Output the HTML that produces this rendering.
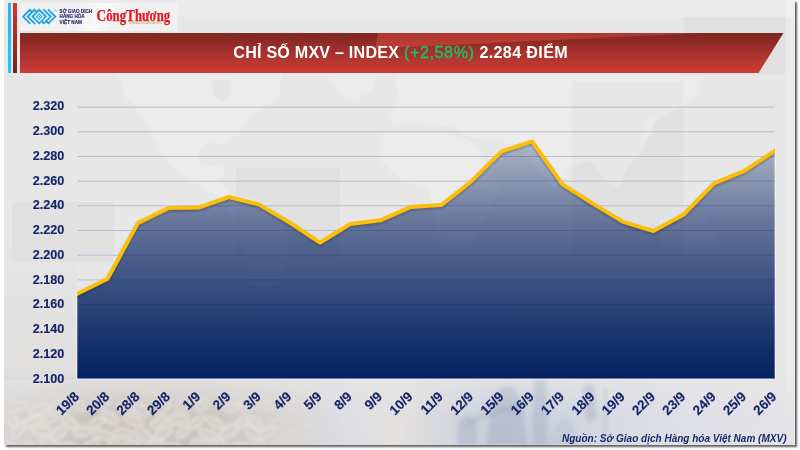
<!DOCTYPE html>
<html lang="vi">
<head>
<meta charset="utf-8">
<title>Chỉ số MXV – Index</title>
<style>
html,body{margin:0;padding:0;background:#fff;}
body{width:800px;height:450px;overflow:hidden;position:relative;font-family:"Liberation Sans",sans-serif;}
#slide{position:absolute;left:4px;top:0;width:790.6px;height:444.8px;overflow:hidden;background:#e7e7e7;}
#shadow{position:absolute;left:4px;top:0;width:790.6px;height:444.8px;box-shadow:1.6px 1.6px 1.8px rgba(0,0,0,.62);}
.vb{position:absolute;top:3px;height:70px;}
#vblue{left:8px;width:3px;background:linear-gradient(#2fb0ec,#20bdf6 50%,#0fd0ff);}
#vred{left:12.7px;width:4.5px;background:linear-gradient(#c93a33,#a22d28 50%,#7b221d);}
#logos{position:absolute;left:19.5px;top:3.2px;width:158px;height:28.2px;background:linear-gradient(115deg,#f1f1f1 0,#f1f1f1 38%,#f9f9f9 50%,#f1f1f1 62%,#f0f0f0 100%);}
#banner{position:absolute;left:19.5px;top:33px;width:764px;height:40px;
  background:linear-gradient(to bottom,#7d2621 0,#a3302b 45%,#cc3d37 100%);
  clip-path:polygon(0 0,100% 0,739px 100%,0 100%);}
#banner .hl{position:absolute;left:0;top:0;width:100%;height:100%;background:rgba(240,82,72,.42);
  clip-path:polygon(358.5px 0,683px 0,356px 15.5px);}
#title{position:absolute;left:0;top:39.7px;width:801.4px;text-align:center;color:#fff;font-weight:bold;font-size:16.1px;line-height:24px;white-space:nowrap;letter-spacing:.37px;}
#title .g{color:#14c46c;font-weight:normal;-webkit-text-stroke:.35px #14c46c;letter-spacing:.6px;}
#title .w1{letter-spacing:.22px;}
#src{position:absolute;right:13.2px;top:431.4px;font-size:10.02px;line-height:16px;font-weight:bold;font-style:italic;color:#1b2a6b;white-space:nowrap;}
svg{position:absolute;left:0;top:0;will-change:transform;}
#title,#src{will-change:transform;}
</style>
</head>
<body>
<div id="shadow"></div>
<div id="slide"></div>
<svg width="800" height="450" viewBox="0 0 800 450">
<defs>
<clipPath id="slideclip"><rect x="4" y="0" width="790.6" height="444.8"/></clipPath>
<linearGradient id="hband" x1="4" x2="795" y1="0" y2="0" gradientUnits="userSpaceOnUse">
<stop offset="0" stop-color="#d5d3d3"/>
<stop offset=".05" stop-color="#d0cdcb"/>
<stop offset=".12" stop-color="#c6bfb9"/>
<stop offset=".25" stop-color="#c8c2bd"/>
<stop offset=".35" stop-color="#d4d1cf"/>
<stop offset=".43" stop-color="#dcdce2"/>
<stop offset=".50" stop-color="#e3e0dd"/>
<stop offset=".565" stop-color="#d2d5dd"/>
<stop offset=".63" stop-color="#c5cbd7"/>
<stop offset=".70" stop-color="#ccd1dc"/>
<stop offset=".78" stop-color="#d8dae3"/>
<stop offset=".88" stop-color="#dfe0e6"/>
<stop offset="1" stop-color="#e3e3e7"/>
</linearGradient>
<linearGradient id="vfade" x1="0" x2="0" y1="372" y2="445" gradientUnits="userSpaceOnUse">
<stop offset="0" stop-color="#fff" stop-opacity="0"/>
<stop offset=".1" stop-color="#fff" stop-opacity=".22"/>
<stop offset=".3" stop-color="#fff" stop-opacity=".5"/>
<stop offset=".6" stop-color="#fff" stop-opacity=".9"/>
<stop offset="1" stop-color="#fff" stop-opacity="1"/>
</linearGradient>
<mask id="vmask" maskUnits="userSpaceOnUse" x="0" y="370" width="800" height="80"><rect x="0" y="370" width="800" height="80" fill="url(#vfade)"/></mask>
<linearGradient id="margin" x1="0" x2="0" y1="230" y2="380" gradientUnits="userSpaceOnUse">
<stop offset="0" stop-color="#d5d2cf" stop-opacity="0"/>
<stop offset="1" stop-color="#d5d2cf" stop-opacity=".4"/>
</linearGradient>
<filter id="b0" x="-5%" y="-5%" width="110%" height="110%"><feGaussianBlur stdDeviation=".8"/></filter>
<filter id="b1" x="-20%" y="-20%" width="140%" height="140%"><feGaussianBlur stdDeviation="1.5"/></filter>
<filter id="b2" x="-20%" y="-20%" width="140%" height="140%"><feGaussianBlur stdDeviation="2.2"/></filter>
</defs>
<g clip-path="url(#slideclip)">
<rect x="4" y="0" width="791" height="17" fill="#fff" fill-opacity=".18"/>
<rect x="785.5" y="0" width="10" height="445" fill="#fff" fill-opacity=".18"/>
<g fill="#000" fill-opacity=".022">
<rect x="683.5" y="16.5" width="102" height="58"/>
<rect x="572" y="81" width="111.5" height="175"/>
<rect x="236" y="168" width="104" height="90"/>
<rect x="12" y="202" width="102" height="60"/>
</g>
<g fill="#fff" fill-opacity=".22" filter="url(#b0)">
<path d="M118,74 L282,74 L279,99 L262,108 L250,118 L240,130 L238,140 L233,134 L226,144 L206,143 L197,152 L200,163 L212,166 L222,162 L226,172 L218,180 L232,196 L226,198 L206,190 L186,178 L168,164 L158,146 L147,126 L136,108 L124,96 Z"/>
<path d="M212,80 L230,80 L231,96 L222,102 L213,94 Z" fill="#000" fill-opacity=".035"/>
<path d="M326,74 L378,74 L372,90 L356,102 L342,96 Z"/>
<path d="M232,196 L250,198 L275,215 L290,240 L280,280 L262,300 L250,280 L240,240 L228,210 Z"/>
<path d="M392,74 L705,74 L694,98 L668,114 L652,124 L644,148 L628,166 L618,188 L604,178 L590,160 L570,168 L556,190 L540,170 L520,150 L500,140 L470,138 L452,126 L428,128 L410,120 L394,126 L386,114 L400,100 Z"/>
<path d="M380,134 L440,132 L474,142 L490,170 L500,190 L486,220 L470,250 L450,262 L436,230 L430,190 L400,180 L380,160 Z"/>
<path d="M646,120 L654,116 L652,134 L644,140 Z"/>
<path d="M660,220 L700,212 L720,232 L712,252 L680,256 L660,244 Z"/>
</g>
<rect x="4" y="230" width="73" height="150" fill="url(#margin)"/>
<rect x="4" y="370" width="791" height="76" fill="url(#hband)" mask="url(#vmask)"/>
<g filter="url(#b1)">
<ellipse cx="6.2" cy="391.9" rx="11.3" ry="5.6" transform="rotate(4 6.2 391.9)" fill="#e4e0dc" fill-opacity="0.15"/>
<ellipse cx="6.2" cy="391.9" rx="9.0" ry="0.9" transform="rotate(4 6.2 391.9)" fill="#b5ada6" fill-opacity="0.09"/>
<ellipse cx="27.7" cy="391.3" rx="10.8" ry="5.6" transform="rotate(-7 27.7 391.3)" fill="#e4e0dc" fill-opacity="0.14"/>
<ellipse cx="27.7" cy="391.3" rx="8.6" ry="0.9" transform="rotate(-7 27.7 391.3)" fill="#b5ada6" fill-opacity="0.08"/>
<ellipse cx="45.7" cy="391.5" rx="10.5" ry="7.2" transform="rotate(-38 45.7 391.5)" fill="#e4e0dc" fill-opacity="0.14"/>
<ellipse cx="45.7" cy="391.5" rx="8.4" ry="0.9" transform="rotate(-38 45.7 391.5)" fill="#b5ada6" fill-opacity="0.09"/>
<ellipse cx="68.2" cy="394.8" rx="12.3" ry="6.7" transform="rotate(-10 68.2 394.8)" fill="#e4e0dc" fill-opacity="0.23"/>
<ellipse cx="68.2" cy="394.8" rx="9.9" ry="0.9" transform="rotate(-10 68.2 394.8)" fill="#b5ada6" fill-opacity="0.14"/>
<ellipse cx="96.8" cy="391.3" rx="12.0" ry="6.1" transform="rotate(-36 96.8 391.3)" fill="#e4e0dc" fill-opacity="0.14"/>
<ellipse cx="96.8" cy="391.3" rx="9.6" ry="0.9" transform="rotate(-36 96.8 391.3)" fill="#b5ada6" fill-opacity="0.08"/>
<ellipse cx="109.2" cy="392.9" rx="11.9" ry="5.9" transform="rotate(8 109.2 392.9)" fill="#e4e0dc" fill-opacity="0.18"/>
<ellipse cx="109.2" cy="392.9" rx="9.5" ry="0.9" transform="rotate(8 109.2 392.9)" fill="#b5ada6" fill-opacity="0.11"/>
<ellipse cx="135.4" cy="393.2" rx="10.9" ry="5.6" transform="rotate(-44 135.4 393.2)" fill="#e4e0dc" fill-opacity="0.19"/>
<ellipse cx="135.4" cy="393.2" rx="8.7" ry="0.9" transform="rotate(-44 135.4 393.2)" fill="#b5ada6" fill-opacity="0.11"/>
<ellipse cx="152.1" cy="395.1" rx="10.5" ry="6.1" transform="rotate(9 152.1 395.1)" fill="#e4e0dc" fill-opacity="0.23"/>
<ellipse cx="152.1" cy="395.1" rx="8.4" ry="0.9" transform="rotate(9 152.1 395.1)" fill="#b5ada6" fill-opacity="0.14"/>
<ellipse cx="175.5" cy="392.8" rx="11.8" ry="6.9" transform="rotate(-26 175.5 392.8)" fill="#e4e0dc" fill-opacity="0.18"/>
<ellipse cx="175.5" cy="392.8" rx="9.4" ry="0.9" transform="rotate(-26 175.5 392.8)" fill="#b5ada6" fill-opacity="0.11"/>
<ellipse cx="197.7" cy="394.2" rx="12.1" ry="7.0" transform="rotate(-21 197.7 394.2)" fill="#e4e0dc" fill-opacity="0.21"/>
<ellipse cx="197.7" cy="394.2" rx="9.7" ry="0.9" transform="rotate(-21 197.7 394.2)" fill="#b5ada6" fill-opacity="0.13"/>
<ellipse cx="222.8" cy="391.7" rx="10.5" ry="7.0" transform="rotate(-35 222.8 391.7)" fill="#e4e0dc" fill-opacity="0.15"/>
<ellipse cx="222.8" cy="391.7" rx="8.4" ry="0.9" transform="rotate(-35 222.8 391.7)" fill="#b5ada6" fill-opacity="0.09"/>
<ellipse cx="238.9" cy="391.2" rx="11.3" ry="7.0" transform="rotate(7 238.9 391.2)" fill="#e4e0dc" fill-opacity="0.13"/>
<ellipse cx="238.9" cy="391.2" rx="9.1" ry="0.9" transform="rotate(7 238.9 391.2)" fill="#b5ada6" fill-opacity="0.08"/>
<ellipse cx="263.8" cy="392.9" rx="11.4" ry="6.7" transform="rotate(8 263.8 392.9)" fill="#e4e0dc" fill-opacity="0.13"/>
<ellipse cx="263.8" cy="392.9" rx="9.1" ry="0.9" transform="rotate(8 263.8 392.9)" fill="#b5ada6" fill-opacity="0.08"/>
<ellipse cx="280.6" cy="396.0" rx="12.3" ry="6.4" transform="rotate(16 280.6 396.0)" fill="#e4e0dc" fill-opacity="0.15"/>
<ellipse cx="280.6" cy="396.0" rx="9.8" ry="0.9" transform="rotate(16 280.6 396.0)" fill="#b5ada6" fill-opacity="0.09"/>
<ellipse cx="297.6" cy="395.2" rx="11.3" ry="7.5" transform="rotate(32 297.6 395.2)" fill="#e4e0dc" fill-opacity="0.10"/>
<ellipse cx="297.6" cy="395.2" rx="9.0" ry="0.9" transform="rotate(32 297.6 395.2)" fill="#b5ada6" fill-opacity="0.06"/>
<ellipse cx="320.8" cy="393.3" rx="11.3" ry="5.5" transform="rotate(-4 320.8 393.3)" fill="#e4e0dc" fill-opacity="0.05"/>
<ellipse cx="320.8" cy="393.3" rx="9.1" ry="0.9" transform="rotate(-4 320.8 393.3)" fill="#b5ada6" fill-opacity="0.03"/>
<ellipse cx="340.7" cy="391.7" rx="9.2" ry="7.0" transform="rotate(-37 340.7 391.7)" fill="#e4e0dc" fill-opacity="0.01"/>
<ellipse cx="340.7" cy="391.7" rx="7.4" ry="0.9" transform="rotate(-37 340.7 391.7)" fill="#b5ada6" fill-opacity="0.01"/>
<ellipse cx="15.5" cy="406.3" rx="12.0" ry="5.7" transform="rotate(-5 15.5 406.3)" fill="#e4e0dc" fill-opacity="0.53"/>
<ellipse cx="15.5" cy="406.3" rx="9.6" ry="0.9" transform="rotate(-5 15.5 406.3)" fill="#b5ada6" fill-opacity="0.32"/>
<ellipse cx="39.5" cy="409.3" rx="11.9" ry="7.2" transform="rotate(-22 39.5 409.3)" fill="#e4e0dc" fill-opacity="0.60"/>
<ellipse cx="39.5" cy="409.3" rx="9.5" ry="0.9" transform="rotate(-22 39.5 409.3)" fill="#b5ada6" fill-opacity="0.36"/>
<ellipse cx="59.2" cy="406.2" rx="12.1" ry="7.4" transform="rotate(-35 59.2 406.2)" fill="#e4e0dc" fill-opacity="0.52"/>
<ellipse cx="59.2" cy="406.2" rx="9.7" ry="0.9" transform="rotate(-35 59.2 406.2)" fill="#b5ada6" fill-opacity="0.31"/>
<ellipse cx="77.8" cy="405.4" rx="9.8" ry="6.5" transform="rotate(9 77.8 405.4)" fill="#e4e0dc" fill-opacity="0.50"/>
<ellipse cx="77.8" cy="405.4" rx="7.9" ry="0.9" transform="rotate(9 77.8 405.4)" fill="#b5ada6" fill-opacity="0.30"/>
<ellipse cx="99.6" cy="404.0" rx="10.5" ry="6.2" transform="rotate(7 99.6 404.0)" fill="#e4e0dc" fill-opacity="0.47"/>
<ellipse cx="99.6" cy="404.0" rx="8.4" ry="0.9" transform="rotate(7 99.6 404.0)" fill="#b5ada6" fill-opacity="0.28"/>
<ellipse cx="127.5" cy="408.1" rx="10.8" ry="6.7" transform="rotate(18 127.5 408.1)" fill="#e4e0dc" fill-opacity="0.57"/>
<ellipse cx="127.5" cy="408.1" rx="8.6" ry="0.9" transform="rotate(18 127.5 408.1)" fill="#b5ada6" fill-opacity="0.34"/>
<ellipse cx="139.5" cy="409.4" rx="11.7" ry="7.2" transform="rotate(30 139.5 409.4)" fill="#e4e0dc" fill-opacity="0.60"/>
<ellipse cx="139.5" cy="409.4" rx="9.4" ry="0.9" transform="rotate(30 139.5 409.4)" fill="#b5ada6" fill-opacity="0.36"/>
<ellipse cx="163.9" cy="406.4" rx="9.4" ry="6.8" transform="rotate(-44 163.9 406.4)" fill="#e4e0dc" fill-opacity="0.53"/>
<ellipse cx="163.9" cy="406.4" rx="7.5" ry="0.9" transform="rotate(-44 163.9 406.4)" fill="#b5ada6" fill-opacity="0.32"/>
<ellipse cx="181.7" cy="405.3" rx="9.6" ry="6.2" transform="rotate(-45 181.7 405.3)" fill="#e4e0dc" fill-opacity="0.50"/>
<ellipse cx="181.7" cy="405.3" rx="7.7" ry="0.9" transform="rotate(-45 181.7 405.3)" fill="#b5ada6" fill-opacity="0.30"/>
<ellipse cx="202.0" cy="404.9" rx="9.4" ry="6.2" transform="rotate(-47 202.0 404.9)" fill="#e4e0dc" fill-opacity="0.49"/>
<ellipse cx="202.0" cy="404.9" rx="7.5" ry="0.9" transform="rotate(-47 202.0 404.9)" fill="#b5ada6" fill-opacity="0.29"/>
<ellipse cx="231.7" cy="407.7" rx="9.5" ry="6.0" transform="rotate(-15 231.7 407.7)" fill="#e4e0dc" fill-opacity="0.55"/>
<ellipse cx="231.7" cy="407.7" rx="7.6" ry="0.9" transform="rotate(-15 231.7 407.7)" fill="#b5ada6" fill-opacity="0.33"/>
<ellipse cx="247.6" cy="404.7" rx="12.0" ry="7.5" transform="rotate(-3 247.6 404.7)" fill="#e4e0dc" fill-opacity="0.41"/>
<ellipse cx="247.6" cy="404.7" rx="9.6" ry="0.9" transform="rotate(-3 247.6 404.7)" fill="#b5ada6" fill-opacity="0.25"/>
<ellipse cx="269.8" cy="404.5" rx="9.4" ry="6.2" transform="rotate(-24 269.8 404.5)" fill="#e4e0dc" fill-opacity="0.32"/>
<ellipse cx="269.8" cy="404.5" rx="7.5" ry="0.9" transform="rotate(-24 269.8 404.5)" fill="#b5ada6" fill-opacity="0.19"/>
<ellipse cx="294.3" cy="405.0" rx="9.1" ry="7.4" transform="rotate(3 294.3 405.0)" fill="#e4e0dc" fill-opacity="0.23"/>
<ellipse cx="294.3" cy="405.0" rx="7.3" ry="0.9" transform="rotate(3 294.3 405.0)" fill="#b5ada6" fill-opacity="0.14"/>
<ellipse cx="308.5" cy="407.3" rx="9.1" ry="6.6" transform="rotate(48 308.5 407.3)" fill="#e4e0dc" fill-opacity="0.19"/>
<ellipse cx="308.5" cy="407.3" rx="7.3" ry="0.9" transform="rotate(48 308.5 407.3)" fill="#b5ada6" fill-opacity="0.11"/>
<ellipse cx="336.6" cy="408.2" rx="9.9" ry="6.2" transform="rotate(-33 336.6 408.2)" fill="#e4e0dc" fill-opacity="0.06"/>
<ellipse cx="336.6" cy="408.2" rx="7.9" ry="0.9" transform="rotate(-33 336.6 408.2)" fill="#b5ada6" fill-opacity="0.04"/>
<ellipse cx="10.8" cy="419.0" rx="9.8" ry="7.1" transform="rotate(48 10.8 419.0)" fill="#e4e0dc" fill-opacity="0.62"/>
<ellipse cx="10.8" cy="419.0" rx="7.8" ry="0.9" transform="rotate(48 10.8 419.0)" fill="#b5ada6" fill-opacity="0.37"/>
<ellipse cx="32.5" cy="421.8" rx="11.9" ry="7.0" transform="rotate(-27 32.5 421.8)" fill="#e4e0dc" fill-opacity="0.62"/>
<ellipse cx="32.5" cy="421.8" rx="9.5" ry="0.9" transform="rotate(-27 32.5 421.8)" fill="#b5ada6" fill-opacity="0.37"/>
<ellipse cx="50.2" cy="419.1" rx="9.1" ry="5.6" transform="rotate(-22 50.2 419.1)" fill="#e4e0dc" fill-opacity="0.62"/>
<ellipse cx="50.2" cy="419.1" rx="7.3" ry="0.9" transform="rotate(-22 50.2 419.1)" fill="#b5ada6" fill-opacity="0.37"/>
<ellipse cx="68.6" cy="421.2" rx="12.3" ry="6.4" transform="rotate(44 68.6 421.2)" fill="#e4e0dc" fill-opacity="0.62"/>
<ellipse cx="68.6" cy="421.2" rx="9.9" ry="0.9" transform="rotate(44 68.6 421.2)" fill="#b5ada6" fill-opacity="0.37"/>
<ellipse cx="96.9" cy="422.7" rx="10.3" ry="5.9" transform="rotate(-27 96.9 422.7)" fill="#e4e0dc" fill-opacity="0.62"/>
<ellipse cx="96.9" cy="422.7" rx="8.2" ry="0.9" transform="rotate(-27 96.9 422.7)" fill="#b5ada6" fill-opacity="0.37"/>
<ellipse cx="110.0" cy="418.2" rx="11.2" ry="7.3" transform="rotate(34 110.0 418.2)" fill="#e4e0dc" fill-opacity="0.62"/>
<ellipse cx="110.0" cy="418.2" rx="8.9" ry="0.9" transform="rotate(34 110.0 418.2)" fill="#b5ada6" fill-opacity="0.37"/>
<ellipse cx="133.8" cy="420.9" rx="11.8" ry="5.7" transform="rotate(16 133.8 420.9)" fill="#e4e0dc" fill-opacity="0.62"/>
<ellipse cx="133.8" cy="420.9" rx="9.4" ry="0.9" transform="rotate(16 133.8 420.9)" fill="#b5ada6" fill-opacity="0.37"/>
<ellipse cx="159.1" cy="421.7" rx="11.6" ry="6.5" transform="rotate(-32 159.1 421.7)" fill="#e4e0dc" fill-opacity="0.62"/>
<ellipse cx="159.1" cy="421.7" rx="9.3" ry="0.9" transform="rotate(-32 159.1 421.7)" fill="#b5ada6" fill-opacity="0.37"/>
<ellipse cx="178.9" cy="419.0" rx="11.8" ry="7.4" transform="rotate(-10 178.9 419.0)" fill="#e4e0dc" fill-opacity="0.62"/>
<ellipse cx="178.9" cy="419.0" rx="9.4" ry="0.9" transform="rotate(-10 178.9 419.0)" fill="#b5ada6" fill-opacity="0.37"/>
<ellipse cx="196.0" cy="422.7" rx="11.5" ry="5.8" transform="rotate(-37 196.0 422.7)" fill="#e4e0dc" fill-opacity="0.62"/>
<ellipse cx="196.0" cy="422.7" rx="9.2" ry="0.9" transform="rotate(-37 196.0 422.7)" fill="#b5ada6" fill-opacity="0.37"/>
<ellipse cx="214.5" cy="422.4" rx="11.8" ry="5.8" transform="rotate(33 214.5 422.4)" fill="#e4e0dc" fill-opacity="0.62"/>
<ellipse cx="214.5" cy="422.4" rx="9.5" ry="0.9" transform="rotate(33 214.5 422.4)" fill="#b5ada6" fill-opacity="0.37"/>
<ellipse cx="243.8" cy="420.9" rx="10.2" ry="6.6" transform="rotate(-37 243.8 420.9)" fill="#e4e0dc" fill-opacity="0.55"/>
<ellipse cx="243.8" cy="420.9" rx="8.2" ry="0.9" transform="rotate(-37 243.8 420.9)" fill="#b5ada6" fill-opacity="0.33"/>
<ellipse cx="255.1" cy="422.8" rx="11.3" ry="6.6" transform="rotate(43 255.1 422.8)" fill="#e4e0dc" fill-opacity="0.49"/>
<ellipse cx="255.1" cy="422.8" rx="9.0" ry="0.9" transform="rotate(43 255.1 422.8)" fill="#b5ada6" fill-opacity="0.29"/>
<ellipse cx="280.3" cy="422.2" rx="11.9" ry="5.9" transform="rotate(-25 280.3 422.2)" fill="#e4e0dc" fill-opacity="0.36"/>
<ellipse cx="280.3" cy="422.2" rx="9.5" ry="0.9" transform="rotate(-25 280.3 422.2)" fill="#b5ada6" fill-opacity="0.22"/>
<ellipse cx="299.9" cy="418.4" rx="11.1" ry="6.0" transform="rotate(-8 299.9 418.4)" fill="#e4e0dc" fill-opacity="0.26"/>
<ellipse cx="299.9" cy="418.4" rx="8.8" ry="0.9" transform="rotate(-8 299.9 418.4)" fill="#b5ada6" fill-opacity="0.16"/>
<ellipse cx="319.3" cy="422.5" rx="10.2" ry="6.4" transform="rotate(8 319.3 422.5)" fill="#e4e0dc" fill-opacity="0.16"/>
<ellipse cx="319.3" cy="422.5" rx="8.2" ry="0.9" transform="rotate(8 319.3 422.5)" fill="#b5ada6" fill-opacity="0.10"/>
<ellipse cx="348.0" cy="419.5" rx="12.2" ry="6.5" transform="rotate(3 348.0 419.5)" fill="#e4e0dc" fill-opacity="0.01"/>
<ellipse cx="348.0" cy="419.5" rx="9.8" ry="0.9" transform="rotate(3 348.0 419.5)" fill="#b5ada6" fill-opacity="0.01"/>
<ellipse cx="18.2" cy="430.1" rx="10.5" ry="5.9" transform="rotate(-50 18.2 430.1)" fill="#e4e0dc" fill-opacity="0.62"/>
<ellipse cx="18.2" cy="430.1" rx="8.4" ry="0.9" transform="rotate(-50 18.2 430.1)" fill="#b5ada6" fill-opacity="0.37"/>
<ellipse cx="42.0" cy="431.0" rx="10.7" ry="7.0" transform="rotate(6 42.0 431.0)" fill="#e4e0dc" fill-opacity="0.62"/>
<ellipse cx="42.0" cy="431.0" rx="8.5" ry="0.9" transform="rotate(6 42.0 431.0)" fill="#b5ada6" fill-opacity="0.37"/>
<ellipse cx="58.3" cy="433.1" rx="10.9" ry="7.1" transform="rotate(-39 58.3 433.1)" fill="#e4e0dc" fill-opacity="0.62"/>
<ellipse cx="58.3" cy="433.1" rx="8.8" ry="0.9" transform="rotate(-39 58.3 433.1)" fill="#b5ada6" fill-opacity="0.37"/>
<ellipse cx="81.6" cy="431.5" rx="10.0" ry="7.0" transform="rotate(1 81.6 431.5)" fill="#e4e0dc" fill-opacity="0.62"/>
<ellipse cx="81.6" cy="431.5" rx="8.0" ry="0.9" transform="rotate(1 81.6 431.5)" fill="#b5ada6" fill-opacity="0.37"/>
<ellipse cx="102.6" cy="434.6" rx="12.2" ry="6.4" transform="rotate(11 102.6 434.6)" fill="#e4e0dc" fill-opacity="0.62"/>
<ellipse cx="102.6" cy="434.6" rx="9.8" ry="0.9" transform="rotate(11 102.6 434.6)" fill="#b5ada6" fill-opacity="0.37"/>
<ellipse cx="123.1" cy="433.1" rx="11.4" ry="6.4" transform="rotate(3 123.1 433.1)" fill="#e4e0dc" fill-opacity="0.62"/>
<ellipse cx="123.1" cy="433.1" rx="9.1" ry="0.9" transform="rotate(3 123.1 433.1)" fill="#b5ada6" fill-opacity="0.37"/>
<ellipse cx="143.8" cy="435.6" rx="11.4" ry="7.3" transform="rotate(44 143.8 435.6)" fill="#e4e0dc" fill-opacity="0.62"/>
<ellipse cx="143.8" cy="435.6" rx="9.2" ry="0.9" transform="rotate(44 143.8 435.6)" fill="#b5ada6" fill-opacity="0.37"/>
<ellipse cx="162.6" cy="433.4" rx="12.3" ry="7.2" transform="rotate(-36 162.6 433.4)" fill="#e4e0dc" fill-opacity="0.62"/>
<ellipse cx="162.6" cy="433.4" rx="9.8" ry="0.9" transform="rotate(-36 162.6 433.4)" fill="#b5ada6" fill-opacity="0.37"/>
<ellipse cx="182.2" cy="432.7" rx="9.3" ry="6.0" transform="rotate(-43 182.2 432.7)" fill="#e4e0dc" fill-opacity="0.62"/>
<ellipse cx="182.2" cy="432.7" rx="7.4" ry="0.9" transform="rotate(-43 182.2 432.7)" fill="#b5ada6" fill-opacity="0.37"/>
<ellipse cx="208.7" cy="434.7" rx="12.1" ry="5.8" transform="rotate(22 208.7 434.7)" fill="#e4e0dc" fill-opacity="0.62"/>
<ellipse cx="208.7" cy="434.7" rx="9.7" ry="0.9" transform="rotate(22 208.7 434.7)" fill="#b5ada6" fill-opacity="0.37"/>
<ellipse cx="229.6" cy="430.9" rx="12.1" ry="7.4" transform="rotate(-28 229.6 430.9)" fill="#e4e0dc" fill-opacity="0.62"/>
<ellipse cx="229.6" cy="430.9" rx="9.7" ry="0.9" transform="rotate(-28 229.6 430.9)" fill="#b5ada6" fill-opacity="0.37"/>
<ellipse cx="253.5" cy="432.4" rx="10.7" ry="7.5" transform="rotate(33 253.5 432.4)" fill="#e4e0dc" fill-opacity="0.50"/>
<ellipse cx="253.5" cy="432.4" rx="8.6" ry="0.9" transform="rotate(33 253.5 432.4)" fill="#b5ada6" fill-opacity="0.30"/>
<ellipse cx="266.6" cy="432.6" rx="10.8" ry="6.2" transform="rotate(-30 266.6 432.6)" fill="#e4e0dc" fill-opacity="0.43"/>
<ellipse cx="266.6" cy="432.6" rx="8.6" ry="0.9" transform="rotate(-30 266.6 432.6)" fill="#b5ada6" fill-opacity="0.26"/>
<ellipse cx="289.2" cy="434.3" rx="9.1" ry="6.6" transform="rotate(-6 289.2 434.3)" fill="#e4e0dc" fill-opacity="0.31"/>
<ellipse cx="289.2" cy="434.3" rx="7.3" ry="0.9" transform="rotate(-6 289.2 434.3)" fill="#b5ada6" fill-opacity="0.19"/>
<ellipse cx="307.2" cy="432.0" rx="11.2" ry="6.5" transform="rotate(-44 307.2 432.0)" fill="#e4e0dc" fill-opacity="0.22"/>
<ellipse cx="307.2" cy="432.0" rx="8.9" ry="0.9" transform="rotate(-44 307.2 432.0)" fill="#b5ada6" fill-opacity="0.13"/>
<ellipse cx="337.9" cy="434.7" rx="12.4" ry="5.7" transform="rotate(-23 337.9 434.7)" fill="#e4e0dc" fill-opacity="0.06"/>
<ellipse cx="337.9" cy="434.7" rx="9.9" ry="0.9" transform="rotate(-23 337.9 434.7)" fill="#b5ada6" fill-opacity="0.04"/>
<ellipse cx="349.4" cy="434.7" rx="9.9" ry="5.8" transform="rotate(-8 349.4 434.7)" fill="#e4e0dc" fill-opacity="0.00"/>
<ellipse cx="349.4" cy="434.7" rx="8.0" ry="0.9" transform="rotate(-8 349.4 434.7)" fill="#b5ada6" fill-opacity="0.00"/>
<ellipse cx="12.1" cy="447.9" rx="9.9" ry="5.8" transform="rotate(42 12.1 447.9)" fill="#e4e0dc" fill-opacity="0.62"/>
<ellipse cx="12.1" cy="447.9" rx="7.9" ry="0.9" transform="rotate(42 12.1 447.9)" fill="#b5ada6" fill-opacity="0.37"/>
<ellipse cx="29.7" cy="447.2" rx="9.3" ry="5.6" transform="rotate(19 29.7 447.2)" fill="#e4e0dc" fill-opacity="0.62"/>
<ellipse cx="29.7" cy="447.2" rx="7.5" ry="0.9" transform="rotate(19 29.7 447.2)" fill="#b5ada6" fill-opacity="0.37"/>
<ellipse cx="49.3" cy="443.4" rx="12.3" ry="6.8" transform="rotate(30 49.3 443.4)" fill="#e4e0dc" fill-opacity="0.62"/>
<ellipse cx="49.3" cy="443.4" rx="9.8" ry="0.9" transform="rotate(30 49.3 443.4)" fill="#b5ada6" fill-opacity="0.37"/>
<ellipse cx="66.8" cy="448.1" rx="9.2" ry="7.2" transform="rotate(-5 66.8 448.1)" fill="#e4e0dc" fill-opacity="0.62"/>
<ellipse cx="66.8" cy="448.1" rx="7.4" ry="0.9" transform="rotate(-5 66.8 448.1)" fill="#b5ada6" fill-opacity="0.37"/>
<ellipse cx="90.4" cy="446.3" rx="12.2" ry="6.0" transform="rotate(-37 90.4 446.3)" fill="#e4e0dc" fill-opacity="0.62"/>
<ellipse cx="90.4" cy="446.3" rx="9.8" ry="0.9" transform="rotate(-37 90.4 446.3)" fill="#b5ada6" fill-opacity="0.37"/>
<ellipse cx="113.3" cy="444.4" rx="9.4" ry="5.8" transform="rotate(-45 113.3 444.4)" fill="#e4e0dc" fill-opacity="0.62"/>
<ellipse cx="113.3" cy="444.4" rx="7.5" ry="0.9" transform="rotate(-45 113.3 444.4)" fill="#b5ada6" fill-opacity="0.37"/>
<ellipse cx="131.0" cy="444.9" rx="10.1" ry="7.0" transform="rotate(-21 131.0 444.9)" fill="#e4e0dc" fill-opacity="0.62"/>
<ellipse cx="131.0" cy="444.9" rx="8.1" ry="0.9" transform="rotate(-21 131.0 444.9)" fill="#b5ada6" fill-opacity="0.37"/>
<ellipse cx="155.0" cy="444.1" rx="10.2" ry="5.5" transform="rotate(-25 155.0 444.1)" fill="#e4e0dc" fill-opacity="0.62"/>
<ellipse cx="155.0" cy="444.1" rx="8.2" ry="0.9" transform="rotate(-25 155.0 444.1)" fill="#b5ada6" fill-opacity="0.37"/>
<ellipse cx="171.2" cy="447.4" rx="10.9" ry="5.9" transform="rotate(-3 171.2 447.4)" fill="#e4e0dc" fill-opacity="0.62"/>
<ellipse cx="171.2" cy="447.4" rx="8.7" ry="0.9" transform="rotate(-3 171.2 447.4)" fill="#b5ada6" fill-opacity="0.37"/>
<ellipse cx="201.3" cy="443.6" rx="11.9" ry="6.4" transform="rotate(-0 201.3 443.6)" fill="#e4e0dc" fill-opacity="0.62"/>
<ellipse cx="201.3" cy="443.6" rx="9.5" ry="0.9" transform="rotate(-0 201.3 443.6)" fill="#b5ada6" fill-opacity="0.37"/>
<ellipse cx="221.3" cy="445.4" rx="10.8" ry="6.9" transform="rotate(48 221.3 445.4)" fill="#e4e0dc" fill-opacity="0.62"/>
<ellipse cx="221.3" cy="445.4" rx="8.6" ry="0.9" transform="rotate(48 221.3 445.4)" fill="#b5ada6" fill-opacity="0.37"/>
<ellipse cx="237.4" cy="448.0" rx="11.5" ry="6.8" transform="rotate(-10 237.4 448.0)" fill="#e4e0dc" fill-opacity="0.58"/>
<ellipse cx="237.4" cy="448.0" rx="9.2" ry="0.9" transform="rotate(-10 237.4 448.0)" fill="#b5ada6" fill-opacity="0.35"/>
<ellipse cx="258.5" cy="443.3" rx="9.5" ry="5.6" transform="rotate(24 258.5 443.3)" fill="#e4e0dc" fill-opacity="0.47"/>
<ellipse cx="258.5" cy="443.3" rx="7.6" ry="0.9" transform="rotate(24 258.5 443.3)" fill="#b5ada6" fill-opacity="0.28"/>
<ellipse cx="278.6" cy="444.0" rx="9.3" ry="7.2" transform="rotate(37 278.6 444.0)" fill="#e4e0dc" fill-opacity="0.37"/>
<ellipse cx="278.6" cy="444.0" rx="7.4" ry="0.9" transform="rotate(37 278.6 444.0)" fill="#b5ada6" fill-opacity="0.22"/>
<ellipse cx="303.7" cy="444.7" rx="9.8" ry="6.1" transform="rotate(-4 303.7 444.7)" fill="#e4e0dc" fill-opacity="0.24"/>
<ellipse cx="303.7" cy="444.7" rx="7.9" ry="0.9" transform="rotate(-4 303.7 444.7)" fill="#b5ada6" fill-opacity="0.14"/>
<ellipse cx="319.6" cy="445.7" rx="9.9" ry="7.4" transform="rotate(47 319.6 445.7)" fill="#e4e0dc" fill-opacity="0.16"/>
<ellipse cx="319.6" cy="445.7" rx="7.9" ry="0.9" transform="rotate(47 319.6 445.7)" fill="#b5ada6" fill-opacity="0.09"/>
<ellipse cx="344.5" cy="444.5" rx="12.4" ry="6.1" transform="rotate(-14 344.5 444.5)" fill="#e4e0dc" fill-opacity="0.03"/>
<ellipse cx="344.5" cy="444.5" rx="9.9" ry="0.9" transform="rotate(-14 344.5 444.5)" fill="#b5ada6" fill-opacity="0.02"/>
</g>
<g filter="url(#b2)" fill="#8794b2" fill-opacity=".26">
<polygon points="457,446 458,422 466,415 476,420 478,446"/>
<polygon points="466,420 500,408 524,402 525,406 500,413 468,425"/>
<polygon points="486,446 492,404 500,388 512,386 522,400 528,446"/>
<polygon points="532,446 534,380 546,380 548,446"/>
<polygon points="583,386 594,384 597,420 588,424 584,410"/>
<rect x="604" y="388" width="2.5" height="58"/>
<polygon points="548,446 556,424 566,418 574,426 578,446" fill-opacity=".14"/>
</g>
</g>
</svg>

<div class="vb" id="vblue"></div>
<div class="vb" id="vred"></div>
<div id="logos"></div>
<div id="banner"><div class="hl"></div></div>
<div id="title"><span class="w1">CHỈ SỐ MXV – INDEX</span> <span class="g">(+2,58%)</span> 2.284 ĐIỂM</div>

<svg width="800" height="450" viewBox="0 0 800 450">
<defs>
<linearGradient id="fill" gradientUnits="userSpaceOnUse" x1="0" y1="142" x2="0" y2="379">
<stop offset="0" stop-color="#032060" stop-opacity=".25"/>
<stop offset=".114" stop-color="#032060" stop-opacity=".36"/>
<stop offset=".312" stop-color="#032060" stop-opacity=".545"/>
<stop offset=".426" stop-color="#032060" stop-opacity=".64"/>
<stop offset=".633" stop-color="#032060" stop-opacity=".78"/>
<stop offset=".844" stop-color="#032060" stop-opacity=".913"/>
<stop offset="1" stop-color="#032060" stop-opacity="1"/>
</linearGradient>
<clipPath id="plotclip"><rect x="77.1" y="90" width="697.9" height="300"/></clipPath>
<filter id="ls" x="-5%" y="-20%" width="110%" height="140%"><feGaussianBlur stdDeviation="1.2"/></filter>
</defs>
<g stroke="#b5bcd1" stroke-width="1">
<line x1="77.7" x2="774.7" y1="107.1" y2="107.1"/>
<line x1="77.7" x2="774.7" y1="131.8" y2="131.8"/>
<line x1="77.7" x2="774.7" y1="156.5" y2="156.5"/>
<line x1="77.7" x2="774.7" y1="181.1" y2="181.1"/>
<line x1="77.7" x2="774.7" y1="205.8" y2="205.8"/>
<line x1="77.7" x2="774.7" y1="230.5" y2="230.5"/>
<line x1="77.7" x2="774.7" y1="255.2" y2="255.2"/>
<line x1="77.7" x2="774.7" y1="279.9" y2="279.9"/>
<line x1="77.7" x2="774.7" y1="304.6" y2="304.6"/>
<line x1="77.7" x2="774.7" y1="329.2" y2="329.2"/>
<line x1="77.7" x2="774.7" y1="353.9" y2="353.9"/>
<line x1="77.7" x2="774.7" y1="378.6" y2="378.6"/>
</g>
<polygon points="77.3,378.6 77.3,293.8 107.6,278.8 137.9,223.1 168.3,208.1 198.6,207.6 228.9,197.0 259.2,204.6 289.6,222.5 319.9,242.7 350.2,224.0 380.5,220.3 410.8,206.9 441.2,205.1 471.5,181.2 501.8,151.3 532.1,141.4 562.4,184.3 592.8,203.6 623.1,221.9 653.4,231.0 683.7,214.5 714.1,183.4 744.4,170.9 774.7,150.9 774.7,378.6" fill="none" stroke="#fff" stroke-opacity=".5" stroke-width="2.2" stroke-linejoin="round"/>
<polygon points="77.3,378.6 77.3,293.8 107.6,278.8 137.9,223.1 168.3,208.1 198.6,207.6 228.9,197.0 259.2,204.6 289.6,222.5 319.9,242.7 350.2,224.0 380.5,220.3 410.8,206.9 441.2,205.1 471.5,181.2 501.8,151.3 532.1,141.4 562.4,184.3 592.8,203.6 623.1,221.9 653.4,231.0 683.7,214.5 714.1,183.4 744.4,170.9 774.7,150.9 774.7,378.6" fill="url(#fill)"/>
<g clip-path="url(#plotclip)">
<polyline points="74.3,295.3 77.3,293.8 107.6,278.8 137.9,223.1 168.3,208.1 198.6,207.6 228.9,197.0 259.2,204.6 289.6,222.5 319.9,242.7 350.2,224.0 380.5,220.3 410.8,206.9 441.2,205.1 471.5,181.2 501.8,151.3 532.1,141.4 562.4,184.3 592.8,203.6 623.1,221.9 653.4,231.0 683.7,214.5 714.1,183.4 744.4,170.9 774.7,150.9 777.7,148.9" fill="none" stroke="#222" stroke-opacity=".35" stroke-width="3.6" stroke-linejoin="round" transform="translate(0,1.6)" filter="url(#ls)"/>
<polyline points="74.3,295.3 77.3,293.8 107.6,278.8 137.9,223.1 168.3,208.1 198.6,207.6 228.9,197.0 259.2,204.6 289.6,222.5 319.9,242.7 350.2,224.0 380.5,220.3 410.8,206.9 441.2,205.1 471.5,181.2 501.8,151.3 532.1,141.4 562.4,184.3 592.8,203.6 623.1,221.9 653.4,231.0 683.7,214.5 714.1,183.4 744.4,170.9 774.7,150.9 777.7,148.9" fill="none" stroke="#fbbe0b" stroke-width="4" stroke-linejoin="round" stroke-linecap="butt"/>
</g>
<g font-family="'Liberation Sans',sans-serif" font-weight="bold" font-size="13.2" fill="#15256a" stroke="#15256a" stroke-width=".15" text-anchor="end">
<text x="64.4" y="110.30" textLength="31.6" lengthAdjust="spacingAndGlyphs">2.320</text>
<text x="64.4" y="135.05" textLength="31.6" lengthAdjust="spacingAndGlyphs">2.300</text>
<text x="64.4" y="159.80" textLength="31.6" lengthAdjust="spacingAndGlyphs">2.280</text>
<text x="64.4" y="184.55" textLength="31.6" lengthAdjust="spacingAndGlyphs">2.260</text>
<text x="64.4" y="209.30" textLength="31.6" lengthAdjust="spacingAndGlyphs">2.240</text>
<text x="64.4" y="234.05" textLength="31.6" lengthAdjust="spacingAndGlyphs">2.220</text>
<text x="64.4" y="258.80" textLength="31.6" lengthAdjust="spacingAndGlyphs">2.200</text>
<text x="64.4" y="283.55" textLength="31.6" lengthAdjust="spacingAndGlyphs">2.180</text>
<text x="64.4" y="308.30" textLength="31.6" lengthAdjust="spacingAndGlyphs">2.160</text>
<text x="64.4" y="333.05" textLength="31.6" lengthAdjust="spacingAndGlyphs">2.140</text>
<text x="64.4" y="357.80" textLength="31.6" lengthAdjust="spacingAndGlyphs">2.120</text>
<text x="64.4" y="382.55" textLength="31.6" lengthAdjust="spacingAndGlyphs">2.100</text>
</g>
<g font-family="'Liberation Sans',sans-serif" font-weight="bold" font-size="13.4" fill="#15256a" stroke="#15256a" stroke-width=".15" text-anchor="end">
<text transform="translate(79.9,397.4) rotate(-45)">19/8</text>
<text transform="translate(110.2,397.4) rotate(-45)">20/8</text>
<text transform="translate(140.5,397.4) rotate(-45)">28/8</text>
<text transform="translate(170.9,397.4) rotate(-45)">29/8</text>
<text transform="translate(201.2,397.4) rotate(-45)">1/9</text>
<text transform="translate(231.5,397.4) rotate(-45)">2/9</text>
<text transform="translate(261.8,397.4) rotate(-45)">3/9</text>
<text transform="translate(292.2,397.4) rotate(-45)">4/9</text>
<text transform="translate(322.5,397.4) rotate(-45)">5/9</text>
<text transform="translate(352.8,397.4) rotate(-45)">8/9</text>
<text transform="translate(383.1,397.4) rotate(-45)">9/9</text>
<text transform="translate(413.4,397.4) rotate(-45)">10/9</text>
<text transform="translate(443.8,397.4) rotate(-45)">11/9</text>
<text transform="translate(474.1,397.4) rotate(-45)">12/9</text>
<text transform="translate(504.4,397.4) rotate(-45)">15/9</text>
<text transform="translate(534.7,397.4) rotate(-45)">16/9</text>
<text transform="translate(565.0,397.4) rotate(-45)">17/9</text>
<text transform="translate(595.4,397.4) rotate(-45)">18/9</text>
<text transform="translate(625.7,397.4) rotate(-45)">19/9</text>
<text transform="translate(656.0,397.4) rotate(-45)">22/9</text>
<text transform="translate(686.3,397.4) rotate(-45)">23/9</text>
<text transform="translate(716.7,397.4) rotate(-45)">24/9</text>
<text transform="translate(747.0,397.4) rotate(-45)">25/9</text>
<text transform="translate(777.3,397.4) rotate(-45)">26/9</text>
</g>

<!-- MXV logo -->
<g fill="none" stroke="#16a4e6" stroke-width="1.8" stroke-linejoin="miter" stroke-linecap="butt">
<polyline points="30.4,23.9 23.1,16.6 29.85,9.85 32.15,12.15"/>
<polyline points="35,23.9 27.7,16.6 34.45,9.85 36.75,12.15"/>
<polygon points="32.45,16.6 39.2,9.85 45.95,16.6 39.2,23.35"/>
<polyline points="43.4,9.3 50.7,16.6 43.95,23.35 41.65,21.05"/>
<polyline points="48,9.3 55.3,16.6 48.55,23.35 46.25,21.05"/>
<polygon points="36.5,16.6 39.2,13.9 41.9,16.6 39.2,19.3" stroke-width="1.05"/>
<line x1="54.3" y1="10.3" x2="56.7" y2="10.3" stroke-width=".7"/>
</g>
<rect x="38.6" y="16.0" width="1.2" height="1.2" fill="#1ea3e3" transform="rotate(45 39.2 16.6)"/>
<g font-family="'Liberation Sans',sans-serif" font-weight="bold" font-size="4.6" fill="#25236e" stroke="#25236e" stroke-width=".12">
<text x="59.6" y="12.95" textLength="32.5" lengthAdjust="spacingAndGlyphs">SỞ GIAO DỊCH</text>
<text x="59.6" y="18.4" textLength="25" lengthAdjust="spacingAndGlyphs">HÀNG HÓA</text>
<text x="59.6" y="23.85" textLength="22.4" lengthAdjust="spacingAndGlyphs">VIỆT NAM</text>
</g>
<text x="96.6" y="20.6" font-family="'Liberation Serif',serif" font-weight="bold" font-size="16.8" fill="#e3161f" stroke="#e3161f" stroke-width=".25" textLength="73.5" lengthAdjust="spacingAndGlyphs"><tspan font-size="17.5">C</tspan>ông<tspan font-size="17.5">T</tspan>hương</text>
<text x="128.8" y="24.2" font-family="'Liberation Sans',sans-serif" font-weight="bold" font-size="3.1" fill="#c2a566" textLength="33" lengthAdjust="spacingAndGlyphs">CƠ QUAN NGÔN LUẬN CỦA BỘ CÔNG THƯƠNG</text>
</svg>
<div id="src">Nguồn: Sở Giao dịch Hàng hóa Việt Nam (MXV)</div>
</body>
</html>
